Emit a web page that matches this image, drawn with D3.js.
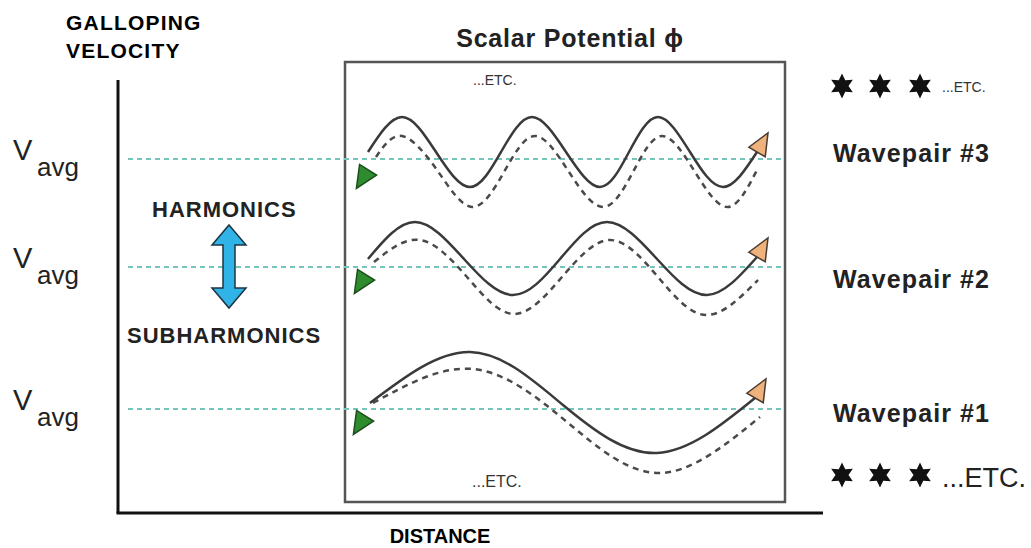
<!DOCTYPE html>
<html>
<head>
<meta charset="utf-8">
<script src="https://cdn.jsdelivr.net/npm/d3@7/dist/d3.min.js"></script>
<style>
  body { margin: 0; background: #fff; }
  svg { display: block; font-family: "Liberation Sans", Arial, sans-serif; }
</style>
</head>
<body>
<div id="chart"></div>
<script>
/* data: distance / velocity units */
var wavepairs = ["Wavepair #1", "Wavepair #2", "Wavepair #3"],
    vAvg = [104, 246, 354],
    // key points (peaks, troughs, crossings) of each wave
    solid1 = [[252, 110], [352, 161], [445, 108], [539, 60], [637, 115]],
    dashed1 = [[255, 110], [355, 144], [449, 91], [542, 40], [642, 96]],
    solid2 = [[250, 254], [297, 291], [346, 254], [395, 218], [442, 254],
              [489, 291], [539, 254], [589, 218], [639, 256]],
    dashed2 = [[256, 251], [302, 273], [349, 236], [396, 199], [444, 236],
               [492, 273], [540, 236], [588, 198], [640, 233]],
    solid3 = [[250, 361], [284, 396], [318, 361], [352, 326], [383, 361],
              [414, 396], [448, 361], [482, 326], [511, 361], [540, 396],
              [572, 361], [605, 326], [639, 361]],
    dashed3 = [[258, 356], [284, 377], [319, 343], [354, 306], [386, 341],
               [417, 377], [451, 341], [485, 306], [515, 341], [544, 377],
               [577, 341], [610, 306], [640, 345]],
    solids = [solid1, solid2, solid3],
    dasheds = [dashed1, dashed2, dashed3],
    boxDist = [227, 667],
    boxVel = [11, 451],
    vAvgDist = [10, 667];

/* layout */
var width = 1031,
    height = 548,
    origin = { x: 118, y: 513 },
    labelBaselines = [422, 288, 162],
    starX = [842, 880, 920];

var svg = d3.select("#chart")
    .append("svg")
    .attr("width", width)
    .attr("height", height);

var x = d3.scaleLinear().domain([0, 705]).range([origin.x, 823]),
    y = d3.scaleLinear().domain([0, 433]).range([origin.y, 80]),
    line = d3.line()
    .x(function(d) { return x(d[0]); })
    .y(function(d) { return y(d[1]); })
    .curve(d3.curveNatural);

var defs = svg.append("defs");

// orange head at the end of the solid wave
defs.append("marker")
    .attr("id", "headOrange")
    .attr("markerUnits", "userSpaceOnUse")
    .attr("markerWidth", 40)
    .attr("markerHeight", 40)
    .attr("refX", 0)
    .attr("refY", 0)
    .attr("orient", -60)
    .style("overflow", "visible")
    .append("path")
    .attr("d", "M0,-9.5 L22,0 L0,9.5 Z")
    .attr("fill", "#f0b27c")
    .attr("stroke", "#4a3b30")
    .attr("stroke-width", 1.5);

// green head at the start of the dashed wave
defs.append("marker")
    .attr("id", "headGreen")
    .attr("markerUnits", "userSpaceOnUse")
    .attr("markerWidth", 40)
    .attr("markerHeight", 40)
    .attr("refX", 0)
    .attr("refY", 0)
    .attr("orient", 122)
    .style("overflow", "visible")
    .append("path")
    .attr("d", "M15,-10 L37,0 L15,10 Z")
    .attr("fill", "#2e8b2e")
    .attr("stroke", "#1c4f1c")
    .attr("stroke-width", 1.5);

/* axes */
svg.append("line")
    .attr("x1", x(0)).attr("x2", x(0))
    .attr("y1", y(0)).attr("y2", y(433))
    .attr("stroke", "#111").attr("stroke-width", 3);
svg.append("line")
    .attr("x1", x(0) - 1.5).attr("x2", x(705))
    .attr("y1", y(0)).attr("y2", y(0))
    .attr("stroke", "#111").attr("stroke-width", 3);

/* scalar potential box */
svg.append("rect")
    .attr("x", x(boxDist[0]))
    .attr("y", y(boxVel[1]))
    .attr("width", x(boxDist[1]) - x(boxDist[0]))
    .attr("height", y(boxVel[0]) - y(boxVel[1]))
    .attr("fill", "none")
    .attr("stroke", "#555")
    .attr("stroke-width", 2.5);

/* V avg lines */
svg.append("g").selectAll("line")
    .data(vAvg)
    .join("line")
    .attr("x1", x(vAvgDist[0]))
    .attr("x2", x(vAvgDist[1]))
    .attr("y1", function(d) { return y(d); })
    .attr("y2", function(d) { return y(d); })
    .attr("stroke", "#74c6bd")
    .attr("stroke-width", 2)
    .attr("stroke-dasharray", "5,4");

/* waves */
svg.append("g").selectAll("path")
    .data(dasheds)
    .join("path")
    .attr("d", line)
    .attr("fill", "none")
    .attr("stroke", "#4a4a4a")
    .attr("stroke-width", 2.5)
    .attr("stroke-dasharray", "6,5")
    .attr("marker-start", "url(#headGreen)");

svg.append("g").selectAll("path")
    .data(solids)
    .join("path")
    .attr("d", line)
    .attr("fill", "none")
    .attr("stroke", "#3a3a3a")
    .attr("stroke-width", 2.5)
    .attr("marker-end", "url(#headOrange)");

/* V avg labels */
var vLbl = svg.append("g").selectAll("g")
    .data(vAvg)
    .join("g")
    .attr("fill", "#222");
vLbl.append("text")
    .attr("x", 13)
    .attr("y", function(d) { return y(d) + 1; })
    .attr("font-size", 29)
    .text("V");
vLbl.append("text")
    .attr("x", 37)
    .attr("y", function(d) { return y(d) + 17; })
    .attr("font-size", 26)
    .text("avg");

/* titles */
svg.append("text")
    .attr("x", 66).attr("y", 30)
    .attr("font-size", 21).attr("font-weight", "bold")
    .attr("letter-spacing", 1.2)
    .text("GALLOPING");
svg.append("text")
    .attr("x", 66).attr("y", 58)
    .attr("font-size", 21).attr("font-weight", "bold")
    .attr("letter-spacing", 1.2)
    .text("VELOCITY");
svg.append("text")
    .attr("x", 570).attr("y", 47)
    .attr("text-anchor", "middle")
    .attr("font-size", 25).attr("font-weight", "bold")
    .attr("fill", "#222")
    .attr("letter-spacing", 0.8)
    .text("Scalar Potential \u03d5");
svg.append("text")
    .attr("x", 440).attr("y", 543)
    .attr("text-anchor", "middle")
    .attr("font-size", 20).attr("font-weight", "bold")
    .text("DISTANCE");
svg.append("text")
    .attr("x", 152).attr("y", 217)
    .attr("font-size", 22).attr("font-weight", "bold")
    .attr("letter-spacing", 1)
    .attr("fill", "#222")
    .text("HARMONICS");
svg.append("text")
    .attr("x", 127).attr("y", 343)
    .attr("font-size", 22).attr("font-weight", "bold")
    .attr("letter-spacing", 1)
    .attr("fill", "#222")
    .text("SUBHARMONICS");

/* etc. notes in the box */
svg.append("text")
    .attr("x", 473).attr("y", 85)
    .attr("font-size", 14)
    .attr("fill", "#333")
    .text("...ETC.");
svg.append("text")
    .attr("x", 472).attr("y", 487)
    .attr("font-size", 16)
    .attr("fill", "#333")
    .text("...ETC.");

/* harmonics double arrow */
var ax = 229, aTop = 225, aBot = 308, hw = 17, hl = 20, sw = 6;
svg.append("path")
    .attr("d", d3.line()([
        [ax, aTop], [ax + hw, aTop + hl], [ax + sw, aTop + hl],
        [ax + sw, aBot - hl], [ax + hw, aBot - hl], [ax, aBot],
        [ax - hw, aBot - hl], [ax - sw, aBot - hl], [ax - sw, aTop + hl],
        [ax - hw, aTop + hl]
    ]) + "Z")
    .attr("fill", "#30b3e6")
    .attr("stroke", "#1d3440")
    .attr("stroke-width", 1.5);

/* wavepair labels */
svg.append("g").selectAll("text")
    .data(wavepairs)
    .join("text")
    .attr("x", 833)
    .attr("y", function(d, i) { return labelBaselines[i]; })
    .attr("font-size", 25)
    .attr("font-weight", "bold")
    .attr("letter-spacing", 1.1)
    .attr("fill", "#222")
    .text(function(d) { return d; });

/* stars */
var star = d3.lineRadial()
    .angle(function(d, i) { return i * Math.PI / 6; })
    .radius(function(d, i) { return i % 2 ? 6.5 : 12.5; })
    .curve(d3.curveLinearClosed);
var starPath = star(d3.range(12));

[86, 475].forEach(function(cy) {
    svg.append("g").selectAll("path")
        .data(starX)
        .join("path")
        .attr("transform", function(d) { return "translate(" + d + "," + cy + ")"; })
        .attr("d", starPath)
        .attr("fill", "#111");
});
svg.append("text")
    .attr("x", 942).attr("y", 92)
    .attr("font-size", 14)
    .attr("fill", "#333")
    .text("...ETC.");
svg.append("text")
    .attr("x", 942).attr("y", 487)
    .attr("font-size", 27)
    .attr("fill", "#222")
    .text("...ETC.");
</script>
</body>
</html>
